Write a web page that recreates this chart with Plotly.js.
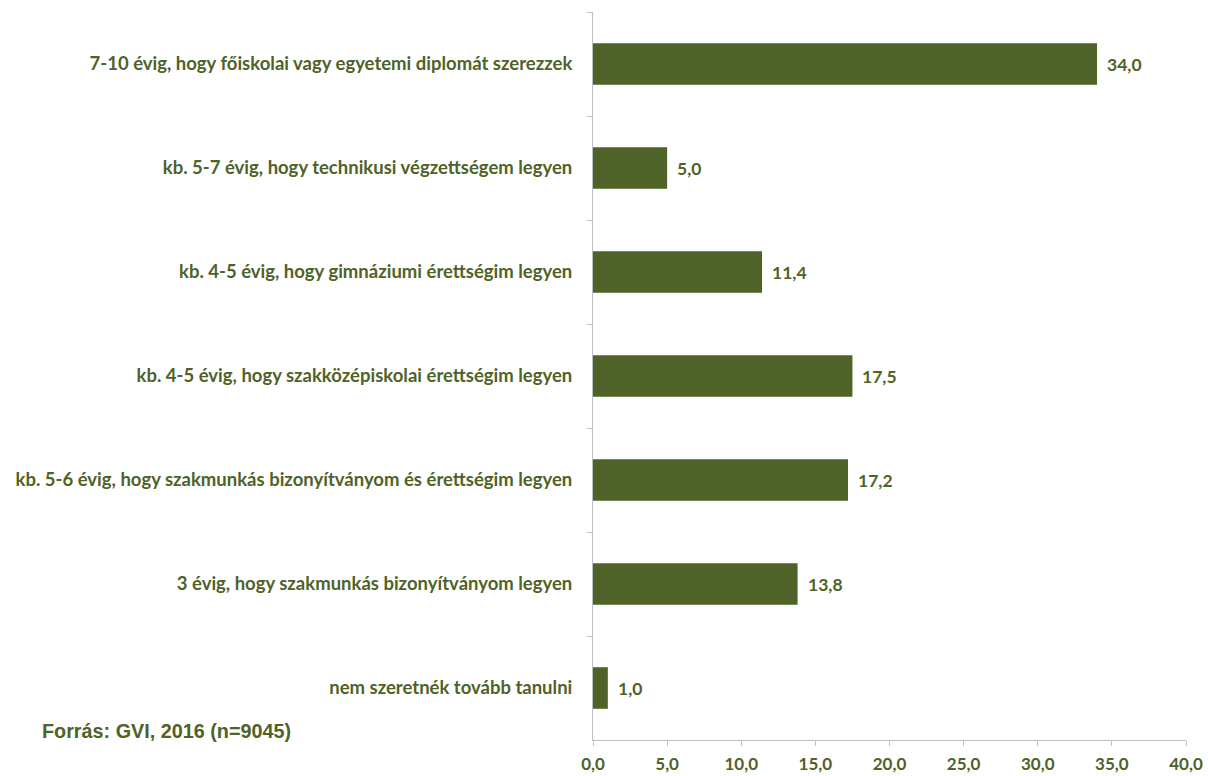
<!DOCTYPE html>
<html>
<head>
<meta charset="utf-8">
<script src="https://cdn.plot.ly/plotly-3.0.1.min.js"></script>
<style>html,body{margin:0;padding:0;background:#fff;}#chart{width:1208px;height:776px;}</style>
</head>
<body>
<div id="chart"></div>
<script>
const categories = [
  "7-10 évig, hogy főiskolai vagy egyetemi diplomát szerezzek",
  "kb. 5-7 évig, hogy technikusi végzettségem legyen",
  "kb. 4-5 évig, hogy gimnáziumi érettségim legyen",
  "kb. 4-5 évig, hogy szakközépiskolai érettségim legyen",
  "kb. 5-6 évig, hogy szakmunkás bizonyítványom és érettségim legyen",
  "3 évig, hogy szakmunkás bizonyítványom legyen",
  "nem szeretnék tovább tanulni"
];
const values = [34.0, 5.0, 11.4, 17.5, 17.2, 13.8, 1.0];
const xTicks = [0, 5, 10, 15, 20, 25, 30, 35, 40];
const xTickLabels = ["0,0","5,0","10,0","15,0","20,0","25,0","30,0","35,0","40,0"];
const sourceText = "Forrás: GVI, 2016 (n=9045)";

const green = "#4f6228";
const fontFam = "Lato, 'Open Sans', sans-serif";

const trace = {
  type: "bar",
  orientation: "h",
  y: categories,
  x: values,
  marker: {color: green, line: {width: 0}},
  hoverinfo: "skip"
};

const labelAnnotations = categories.map((c, i) => ({
  x: values[i], y: c, xref: "x", yref: "y",
  text: values[i].toFixed(1).replace(".", ","),
  xanchor: "left", yanchor: "middle", xshift: 8,
  showarrow: false,
  font: {family: fontFam, size: 17.5, color: green, weight: "bold"}
}));

const plotW = 1208 - 593 - 22;
const layout = {
  width: 1208, height: 776,
  margin: {l: 593, r: 22, t: 12, b: 36},
  paper_bgcolor: "#fff", plot_bgcolor: "#fff",
  showlegend: false,
  bargap: 0.6,
  xaxis: {
    range: [0, 40],
    tickvals: xTicks, ticktext: xTickLabels,
    showgrid: false, zeroline: false,
    showline: true, linecolor: "#bfbfbf", linewidth: 1,
    ticks: "outside", ticklen: 5, tickcolor: "#bfbfbf",
    ticklabelstandoff: 4,
    tickfont: {family: fontFam, size: 17, color: green, weight: "bold"},
    fixedrange: true
  },
  yaxis: {
    autorange: "reversed",
    type: "category",
    showgrid: false, zeroline: false,
    showline: true, linecolor: "#bfbfbf", linewidth: 1,
    ticks: "outside", ticklen: 5, tickcolor: "#bfbfbf",
    tickson: "boundaries",
    ticklabelstandoff: 16,
    tickfont: {family: fontFam, size: 18.5, color: green, weight: "bold"},
    fixedrange: true
  },
  annotations: labelAnnotations.concat([{
    text: sourceText, xref: "paper", yref: "paper",
    x: (40 - 593) / plotW, y: (776 - 36 - 731) / (776 - 12 - 36),
    xanchor: "left", yanchor: "middle",
    showarrow: false,
    font: {family: "'Liberation Sans', Arial, sans-serif", size: 19.8, color: green, weight: "bold"}
  }])
};

Plotly.newPlot("chart", [trace], layout, {displayModeBar: false, staticPlot: true});
</script>
</body>
</html>
